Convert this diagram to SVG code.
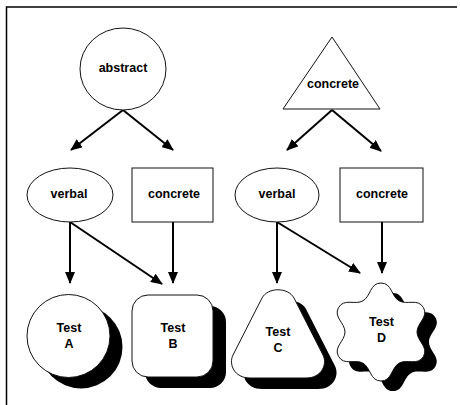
<svg xmlns="http://www.w3.org/2000/svg" width="460" height="405" viewBox="0 0 460 405">
<defs>
<style>
.node{fill:#fff;stroke:#111;stroke-width:1}
.shadow{fill:#000;stroke:none}
.lbl{font-family:"Liberation Sans",Arial,sans-serif;font-weight:bold;font-size:12.5px;fill:#000;text-anchor:middle}
.edge{stroke:#000;stroke-width:2;fill:none;marker-end:url(#arr)}
.frame{stroke:#000;stroke-width:1.5;fill:none}
</style>
<marker id="arr" viewBox="0 0 12 10" refX="11" refY="5" markerWidth="12" markerHeight="10" markerUnits="userSpaceOnUse" orient="auto">
<path d="M0,0 L12,5 L0,10 z" fill="#000"/>
</marker>
<path id="star" d="M381,283 C392,283 391.2,296.3 399,300.8 C406.8,305.3 417.9,298 423.4,307.5 C428.9,317 417,323 417,332 C417,341 428.9,347 423.4,356.5 C417.9,366 406.8,358.7 399,363.2 C391.2,367.7 392,381 381,381 C370,381 370.8,367.7 363,363.2 C355.2,358.7 344.1,366 338.6,356.5 C333.1,347 345,341 345,332 C345,323 333.1,317 338.6,307.5 C344.1,298 355.2,305.3 363,300.8 C370.8,296.3 370,283 381,283 Z"/>
<path id="flask" d="M262,298 L233,355 C228.5,364 234,378 250,378 L306,378 C322,378 327.5,364 323,355 L294,298 C288,287 268,287 262,298 Z"/>
</defs>

<g id="frame">
<path class="frame" d="M6.5,405 L6.5,7 L457,7"/>
</g>

<g id="connectors">
<line class="edge" x1="123" y1="110" x2="71" y2="150"/>
<line class="edge" x1="123" y1="110" x2="173" y2="150"/>
<line class="edge" x1="70" y1="222" x2="70" y2="283"/>
<line class="edge" x1="70" y1="222" x2="162" y2="284"/>
<line class="edge" x1="173" y1="222" x2="173" y2="283"/>
<line class="edge" x1="332" y1="110" x2="287" y2="150"/>
<line class="edge" x1="332" y1="110" x2="381" y2="151"/>
<line class="edge" x1="277" y1="222" x2="277" y2="283"/>
<line class="edge" x1="277" y1="222" x2="360" y2="273"/>
<line class="edge" x1="382" y1="222" x2="382" y2="273"/>
</g>

<g id="abstract">
<ellipse class="node" cx="123" cy="69" rx="43" ry="41"/>
<text class="lbl" x="123" y="72">abstract</text>
</g>

<g id="concrete-top">
<polygon class="node" points="332,37 283,109 380,109"/>
<text class="lbl" x="333" y="88">concrete</text>
</g>

<g id="verbal-left">
<ellipse class="node" cx="70" cy="195" rx="43" ry="27"/>
<text class="lbl" x="69" y="198">verbal</text>
</g>

<g id="concrete-left">
<rect class="node" x="132" y="168" width="81" height="54"/>
<text class="lbl" x="174" y="198">concrete</text>
</g>

<g id="verbal-right">
<ellipse class="node" cx="277" cy="195" rx="42" ry="27"/>
<text class="lbl" x="277" y="198">verbal</text>
</g>

<g id="concrete-right">
<rect class="node" x="340" y="168" width="83" height="54"/>
<text class="lbl" x="382" y="198">concrete</text>
</g>

<g id="testA">
<circle class="shadow" cx="81" cy="347" r="41.5"/>
<circle class="node" cx="68.5" cy="336" r="41.5"/>
<text class="lbl" x="69" y="332">Test</text>
<text class="lbl" x="69" y="348">A</text>
</g>

<g id="testB">
<rect class="shadow" x="145" y="306" width="81" height="82" rx="16"/>
<rect class="node" x="132" y="295" width="81" height="82" rx="16"/>
<text class="lbl" x="173" y="332">Test</text>
<text class="lbl" x="173" y="348">B</text>
</g>

<g id="testC">
<use href="#flask" class="shadow" transform="translate(12,11)"/>
<use href="#flask" class="node"/>
<text class="lbl" x="278" y="336">Test</text>
<text class="lbl" x="278" y="352">C</text>
</g>

<g id="testD">
<use href="#star" class="shadow" transform="translate(12,10)"/>
<use href="#star" class="node"/>
<text class="lbl" x="381.5" y="326">Test</text>
<text class="lbl" x="381.5" y="342">D</text>
</g>
</svg>
